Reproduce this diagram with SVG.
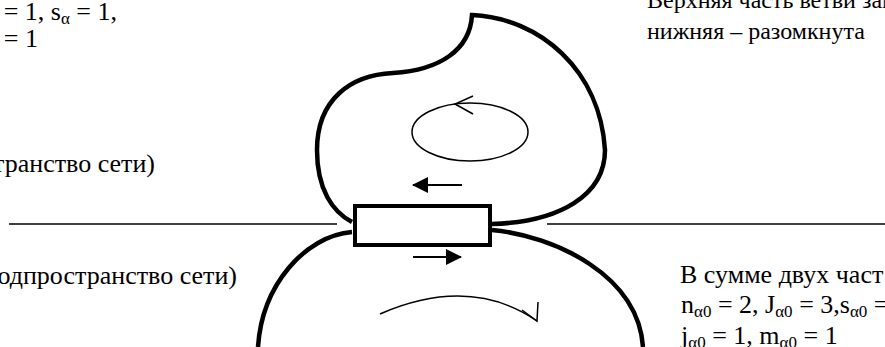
<svg xmlns="http://www.w3.org/2000/svg" width="885" height="347" viewBox="0 0 885 347">
<style>
text{font-family:"Liberation Serif","Times New Roman",serif;font-size:26px;fill:#000}
.small{font-size:24px}
.sub{font-size:17px}
.thick{fill:none;stroke:#000;stroke-width:4.5}
.thin{fill:none;stroke:#000;stroke-width:1.5}
.axis{stroke:#000;stroke-width:1.3}
</style>
<defs>
<marker id="tri" viewBox="0 0 16 16" refX="15" refY="8" markerWidth="16" markerHeight="16" markerUnits="userSpaceOnUse" orient="auto">
<path d="M0,0 L16,8 L0,16 Z" fill="#000"/>
</marker>
</defs>
<g id="labels">
<text x="117" y="20" text-anchor="end">= 1, s<tspan class="sub" dy="4">α</tspan><tspan dy="-4"> = 1,</tspan></text>
<text x="38" y="47" text-anchor="end">= 1</text>
<text x="155" y="172" text-anchor="end">транство сети)</text>
<text x="237" y="284" text-anchor="end">одпространство сети)</text>
<text class="small" x="647" y="8">Верхняя часть ветви зам</text>
<text class="small" x="647" y="39">нижняя – разомкнута</text>
<text x="680" y="283">В сумме двух част</text>
<text x="681" y="313">n<tspan class="sub" dy="4">α0</tspan><tspan dy="-4"> = 2, J</tspan><tspan class="sub" dy="4">α0</tspan><tspan dy="-4"> = 3,s</tspan><tspan class="sub" dy="4">α0</tspan><tspan dy="-4"> =</tspan></text>
<text x="681" y="344">j<tspan class="sub" dy="4">α0</tspan><tspan dy="-4"> = 1, m</tspan><tspan class="sub" dy="4">α0</tspan><tspan dy="-4">  = 1</tspan></text>
</g>
<g id="axis">
<line class="axis" x1="9" y1="224" x2="337" y2="224"/>
<line class="axis" x1="547" y1="224" x2="885" y2="224"/>
</g>
<g id="upper-loop">
<path class="thick" d="M352,222 C333,212 317,190 317,150 C317,100 350,75 393,73 C440,70 470,50 472,15 C540,18 600,70 605,150 C605,195 560,222 492,224"/>
</g>
<g id="lower-loop">
<path class="thick" d="M352,232 C305,236 262,285 258,347"/>
<path class="thick" d="M492,230 C555,236 638,275 643,347"/>
</g>
<g id="branch">
<rect x="355" y="206" width="135" height="39" fill="#fff" stroke="#000" stroke-width="4"/>
</g>
<g id="connectors">
<ellipse class="thin" cx="470" cy="132" rx="58" ry="29"/>
<path class="thin" d="M473,96 L455,104 L473,114"/>
<line x1="462" y1="185" x2="413" y2="185" stroke="#000" stroke-width="2" marker-end="url(#tri)"/>
<line x1="413" y1="257" x2="461" y2="257" stroke="#000" stroke-width="2" marker-end="url(#tri)"/>
<path class="thin" d="M380,314 Q470,275 537,321"/>
<path class="thin" d="M538,302 L537,321 L522,310"/>
</g>
</svg>
